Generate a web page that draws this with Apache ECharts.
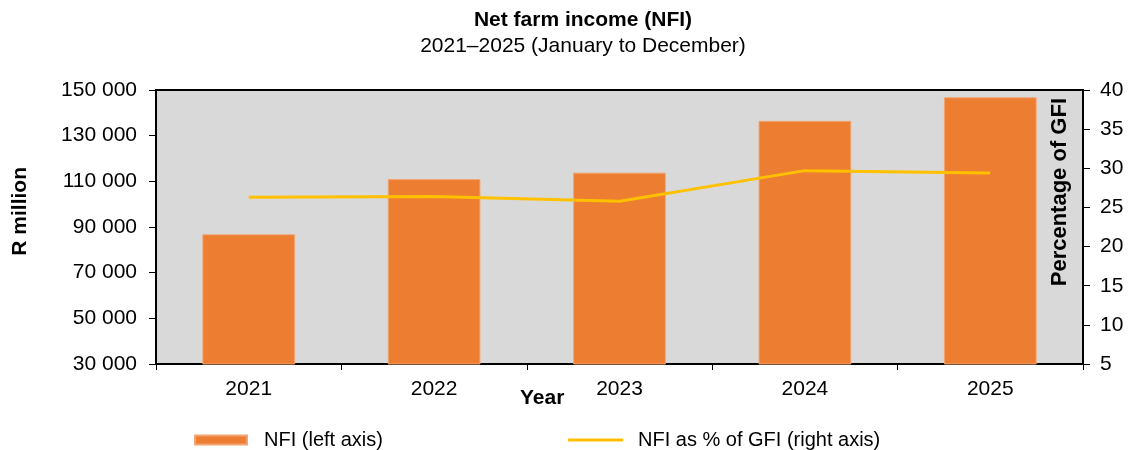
<!DOCTYPE html>
<html><head><meta charset="utf-8">
<script src="https://cdn.jsdelivr.net/npm/echarts@6/dist/echarts.min.js"></script>
<style>html,body{margin:0;padding:0;background:#fff}#c{width:1128px;height:450px}</style>
</head><body><div id="c"></div>
<script>
const years = ['2021', '2022', '2023', '2024', '2025'];
const nfiValues = [86800, 111000, 113800, 136500, 146800];
const nfiPctGfi = [26.3, 26.4, 25.8, 29.7, 29.4];
const leftTicks = { min: 30000, max: 150000, interval: 20000 };
const rightTicks = { min: 5, max: 40, interval: 5 };

const FONT = '"Liberation Sans", Arial, sans-serif';
const chart = echarts.init(document.getElementById('c'));
const fmt = v => String(v).replace(/\B(?=(\d{3})+(?!\d))/g, ' ');
chart.setOption({
  animation: false,
  textStyle: { fontFamily: FONT, color: '#000' },
  title: {
    text: 'Net farm income (NFI)',
    subtext: '2021\u20132025 (January to December)',
    left: 578, textAlign: 'center', top: 5, itemGap: 5,
    textStyle: { fontFamily: FONT, fontSize: 21, fontWeight: 'bold', color: '#000' },
    subtextStyle: { fontFamily: FONT, fontSize: 21, color: '#000' }
  },
  grid: {
    left: 156, top: 90, right: 45, bottom: 86,
    show: true, backgroundColor: '#d9d9d9', borderColor: '#000', borderWidth: 2,
    containLabel: false
  },
  legend: [{
    left: 189, top: 425, itemWidth: 52, itemHeight: 9, icon: 'rect',
    data: [{ name: 'NFI (left axis)' }],
    textStyle: { fontFamily: FONT, fontSize: 20, color: '#000', padding: [0, 0, 0, 12] }
  }, {
    left: 563, top: 425, itemWidth: 55, itemHeight: 3, icon: 'rect',
    data: [{ name: 'NFI as % of GFI (right axis)' }],
    textStyle: { fontFamily: FONT, fontSize: 20, color: '#000', padding: [0, 0, 0, 10] }
  }],
  xAxis: {
    type: 'category', data: years, boundaryGap: true,
    axisLine: { lineStyle: { color: '#000', width: 2 } },
    axisTick: { show: true, length: 6, alignWithLabel: false, lineStyle: { color: '#000', width: 1 } },
    axisLabel: { fontFamily: FONT, fontSize: 21, color: '#000', margin: 15 }
  },
  yAxis: [{
    type: 'value', min: leftTicks.min, max: leftTicks.max, interval: leftTicks.interval,
    splitLine: { show: false },
    axisLine: { show: true, lineStyle: { color: '#000', width: 2 } },
    axisTick: { show: true, length: 7, lineStyle: { color: '#000', width: 1 } },
    axisLabel: { fontFamily: FONT, fontSize: 21, color: '#000', margin: 19, formatter: fmt }
  }, {
    type: 'value', min: rightTicks.min, max: rightTicks.max, interval: rightTicks.interval,
    position: 'right', splitLine: { show: false },
    axisLine: { show: true, lineStyle: { color: '#000', width: 2 } },
    axisTick: { show: true, length: 7, lineStyle: { color: '#000', width: 1 } },
    axisLabel: { fontFamily: FONT, fontSize: 21, color: '#000', margin: 17 }
  }],
  graphic: [
    { type: 'text', left: 10, top: 167, rotation: Math.PI / 2,
      style: { text: 'R million', font: 'bold 21px ' + FONT, fill: '#000' } },
    { type: 'text', left: 1049, top: 98, rotation: Math.PI / 2,
      style: { text: 'Percentage of GFI', font: 'bold 22px ' + FONT, fill: '#000' } },
    { type: 'text', left: 520, top: 388,
      style: { text: 'Year', font: 'bold 21px ' + FONT, fill: '#000' } }
  ],
  series: [{
    name: 'NFI (left axis)', type: 'bar', data: nfiValues, yAxisIndex: 0,
    barWidth: '50%', itemStyle: { color: '#ed7d31', borderColor: '#f1a572', borderWidth: 1 }
  }, {
    name: 'NFI as % of GFI (right axis)', type: 'line', data: nfiPctGfi, yAxisIndex: 1,
    symbol: 'none', lineStyle: { color: '#ffc000', width: 3 }, itemStyle: { color: '#ffc000' }
  }]
});
</script></body></html>
